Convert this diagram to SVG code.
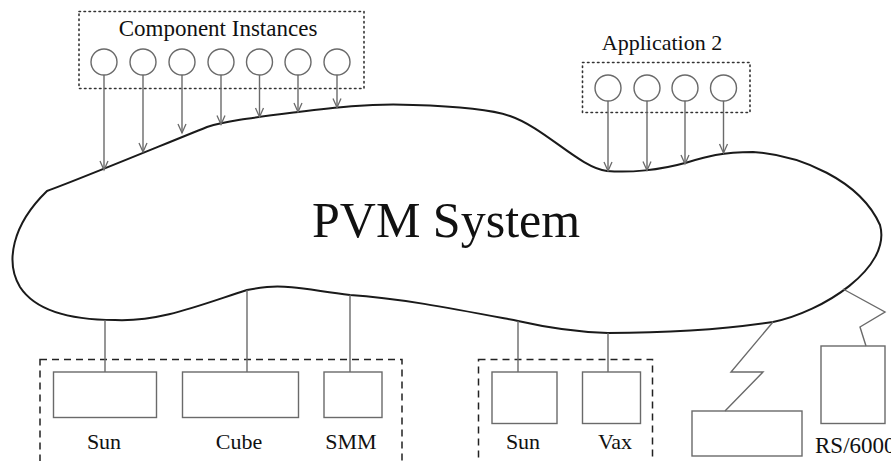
<svg xmlns="http://www.w3.org/2000/svg" width="891" height="461" viewBox="0 0 891 461">
  <style>
    .label { font-family: "Liberation Serif", "Times New Roman", serif; fill: #111; }
    .inst { fill: none; stroke: #6a6a6a; stroke-width: 1.4; }
    .host { fill: #fff; stroke: #6a6a6a; stroke-width: 1.4; }
    .link { fill: none; stroke: #6a6a6a; stroke-width: 1.4; }
    .dotted { fill: none; stroke: #333; stroke-width: 1.6; stroke-dasharray: 1.5 3.5; stroke-linecap: round; }
    .dashed { fill: none; stroke: #222; stroke-width: 1.5; stroke-dasharray: 7 5; }
    .cloud { fill: #fff; stroke: #1a1a1a; stroke-width: 2; stroke-linejoin: round; }
  </style>
  <defs>
    <marker id="arrow" markerUnits="userSpaceOnUse" markerWidth="12" markerHeight="12" viewBox="-10 -5 12 10" refX="0" refY="0" orient="auto">
      <path d="M-9,-4 L0,0 L-9,4" fill="none" stroke="#6a6a6a" stroke-width="1.3"/>
    </marker>
  </defs>

  <!-- PVM System cloud -->
  <g id="pvm-system">
    <path class="cloud" d="M47,191 C75,181 150,150 207,127 C225,121 250,118 298,112 C330,108 370,103 413,105 C450,106 490,109 510,116 C545,128 580,168 607,171 C630,173 660,170 685,163 C705,157 720,152 753,152 C800,155 860,180 880,225 C892,268 822,312 773,322 C720,330 660,333 608,333 C570,332 540,326 518,321 C460,310 400,298 350,295 C310,290 290,285 267,287 C258,288 252,289 247,290 C200,305 160,322 115,320 C70,320 35,310 20,287 C5,262 12,225 47,191 Z"/>
    <text class="label" x="312" y="237" font-size="50">PVM System</text>
  </g>

  <!-- Component instances group -->
  <g id="component-instances">
    <rect class="dotted" x="79" y="11.5" width="285" height="77"/>
    <text class="label" x="218" y="36" font-size="23" text-anchor="middle">Component Instances</text>
    <circle class="inst" cx="104" cy="62" r="13"/>
    <circle class="inst" cx="143" cy="62" r="13"/>
    <circle class="inst" cx="182" cy="62" r="13"/>
    <circle class="inst" cx="221" cy="62" r="13"/>
    <circle class="inst" cx="259.5" cy="62" r="13"/>
    <circle class="inst" cx="298" cy="62" r="13"/>
    <circle class="inst" cx="337" cy="62" r="13"/>
  </g>

  <!-- Application 2 group -->
  <g id="application-2">
    <rect class="dotted" x="582.5" y="62.5" width="167.5" height="50"/>
    <text class="label" x="662" y="50" font-size="22" text-anchor="middle">Application 2</text>
    <circle class="inst" cx="608" cy="88" r="13"/>
    <circle class="inst" cx="647" cy="88" r="13"/>
    <circle class="inst" cx="685" cy="88" r="13"/>
    <circle class="inst" cx="723.5" cy="88" r="13"/>
  </g>

  <!-- First host cluster: Sun, Cube, SMM -->
  <g id="cluster-1">
    <rect class="dashed" x="40" y="359.5" width="362" height="115"/>
    <rect class="host" x="53.5" y="372" width="103" height="45.5"/>
    <rect class="host" x="182.5" y="372" width="116" height="45.5"/>
    <rect class="host" x="324" y="372" width="58" height="45.5"/>
    <text class="label" x="104" y="449" font-size="22" text-anchor="middle">Sun</text>
    <text class="label" x="239" y="449" font-size="22" text-anchor="middle">Cube</text>
    <text class="label" x="351" y="449" font-size="22" text-anchor="middle">SMM</text>
  </g>

  <!-- Second host cluster: Sun, Vax -->
  <g id="cluster-2">
    <rect class="dashed" x="478.5" y="359.5" width="174" height="115"/>
    <rect class="host" x="492" y="372" width="65" height="51.5"/>
    <rect class="host" x="582.5" y="372" width="58" height="51.5"/>
    <text class="label" x="523" y="449" font-size="22" text-anchor="middle">Sun</text>
    <text class="label" x="615" y="449" font-size="22" text-anchor="middle">Vax</text>
  </g>

  <!-- Remote host -->
  <g id="remote-host">
    <rect class="host" x="692" y="411" width="110" height="45"/>
  </g>

  <!-- RS/6000 host -->
  <g id="rs6000">
    <rect class="host" x="821" y="346" width="64" height="77.5"/>
    <text class="label" x="815" y="453" font-size="23">RS/6000</text>
  </g>

  <!-- Connectors -->
  <g id="connectors">
    <line class="link" x1="104" y1="75" x2="104" y2="170" marker-end="url(#arrow)"/>
    <line class="link" x1="143" y1="75" x2="143" y2="152" marker-end="url(#arrow)"/>
    <line class="link" x1="182" y1="75" x2="182" y2="133" marker-end="url(#arrow)"/>
    <line class="link" x1="221" y1="75" x2="221" y2="124.5" marker-end="url(#arrow)"/>
    <line class="link" x1="259.5" y1="75" x2="259.5" y2="117" marker-end="url(#arrow)"/>
    <line class="link" x1="298" y1="75" x2="298" y2="112" marker-end="url(#arrow)"/>
    <line class="link" x1="337" y1="75" x2="337" y2="107.5" marker-end="url(#arrow)"/>

    <line class="link" x1="608" y1="101" x2="608" y2="171" marker-end="url(#arrow)"/>
    <line class="link" x1="647" y1="101" x2="647" y2="170.5" marker-end="url(#arrow)"/>
    <line class="link" x1="685" y1="101" x2="685" y2="164" marker-end="url(#arrow)"/>
    <line class="link" x1="723.5" y1="101" x2="723.5" y2="153" marker-end="url(#arrow)"/>

    <line class="link" x1="105" y1="320" x2="105" y2="372"/>
    <line class="link" x1="247" y1="290" x2="247" y2="372"/>
    <line class="link" x1="350" y1="295" x2="350" y2="372"/>
    <line class="link" x1="518" y1="321" x2="518" y2="372"/>
    <line class="link" x1="608" y1="333" x2="608" y2="372"/>

    <polyline class="link" points="773,322 731,372 763,372 725,411"/>
    <polyline class="link" points="843,289 885,312 860,327 866,346"/>
  </g>
</svg>
